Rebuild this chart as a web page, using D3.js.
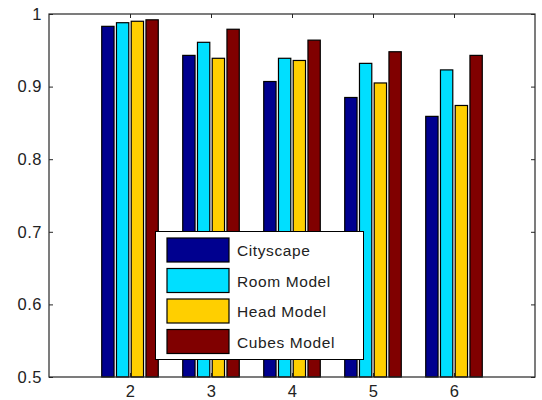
<!DOCTYPE html>
<html><head><meta charset="utf-8">
<script src="https://cdn.jsdelivr.net/npm/d3@7"></script>
<style>body{margin:0;background:#fff}svg{display:block}</style>
</head><body><svg id="c" width="542" height="400"></svg>
<script>
const categories = [2, 3, 4, 5, 6];
const seriesNames = ["Cityscape", "Room Model", "Head Model", "Cubes Model"];
const cityscape = [0.983, 0.943, 0.907, 0.885, 0.859];
const roomModel = [0.988, 0.961, 0.939, 0.932, 0.923];
const headModel = [0.990, 0.939, 0.936, 0.905, 0.874];
const cubesModel = [0.992, 0.979, 0.964, 0.948, 0.943];
const yTicks = [0.5, 0.6, 0.7, 0.8, 0.9, 1];
const colors = ["#00008f", "#00dfff", "#ffcf00", "#800000"];
const series = [cityscape, roomModel, headModel, cubesModel];

const svg = d3.select("#c");
const L = 49, R = 535, T = 14, B = 377;
const x = d3.scaleLinear().domain([1, 7]).range([L, R]);
const y = d3.scaleLinear().domain([0.5, 1]).range([B, T]);
const axisColor = "#262626";
const font = "'Liberation Sans', Arial, sans-serif";

const barW = 0.152, step = 0.182;
const g = svg.append("g");
series.forEach((vals, si) => {
  g.selectAll(null).data(vals).enter().append("rect")
    .attr("x", (d, i) => x(categories[i] + (si - 1.5) * step - barW / 2))
    .attr("width", x(1 + barW) - x(1))
    .attr("y", d => y(d))
    .attr("height", d => y(0.5) - y(d))
    .attr("fill", colors[si])
    .attr("stroke", "#000").attr("stroke-width", 1.2);
});

// axes
const ax = svg.append("g");
ax.append("g").attr("transform", `translate(0,${B})`)
  .call(d3.axisBottom(x).tickValues(categories).tickSize(-4).tickPadding(8).tickFormat(d3.format("d")));
ax.append("g").attr("transform", `translate(0,${T})`)
  .call(d3.axisTop(x).tickValues(categories).tickSize(-4).tickFormat(""));
ax.append("g").attr("transform", `translate(${L},0)`)
  .call(d3.axisLeft(y).tickValues(yTicks).tickSize(-4).tickPadding(7).tickFormat(d => d === 1 ? "1" : d3.format(".1f")(d)));
ax.append("g").attr("transform", `translate(${R},0)`)
  .call(d3.axisRight(y).tickValues(yTicks).tickSize(-4).tickFormat(""));
ax.selectAll(".domain").remove();
ax.selectAll("line").attr("stroke", axisColor);
ax.selectAll("text").attr("font-family", font).attr("font-size", 16.5).attr("letter-spacing", 0.5).attr("fill", "#222");
svg.append("rect").attr("x", L).attr("y", T).attr("width", R - L).attr("height", B - T)
  .attr("fill", "none").attr("stroke", axisColor).attr("stroke-width", 1.2);

// legend
const lg = svg.append("g");
lg.append("rect").attr("x", 155.5).attr("y", 231.5).attr("width", 208).attr("height", 128)
  .attr("fill", "#fff").attr("stroke", "#000").attr("stroke-width", 1);
seriesNames.forEach((n, i) => {
  const yy = 238 + i * 30.5;
  lg.append("rect").attr("x", 167).attr("y", yy).attr("width", 62).attr("height", 24)
    .attr("fill", colors[i]).attr("stroke", "#000").attr("stroke-width", 1.2);
  lg.append("text").attr("x", 237).attr("y", yy + 18).text(n)
    .attr("font-family", font).attr("font-size", 15.5).attr("letter-spacing", 0.6).attr("fill", "#222");
});
</script></body></html>
